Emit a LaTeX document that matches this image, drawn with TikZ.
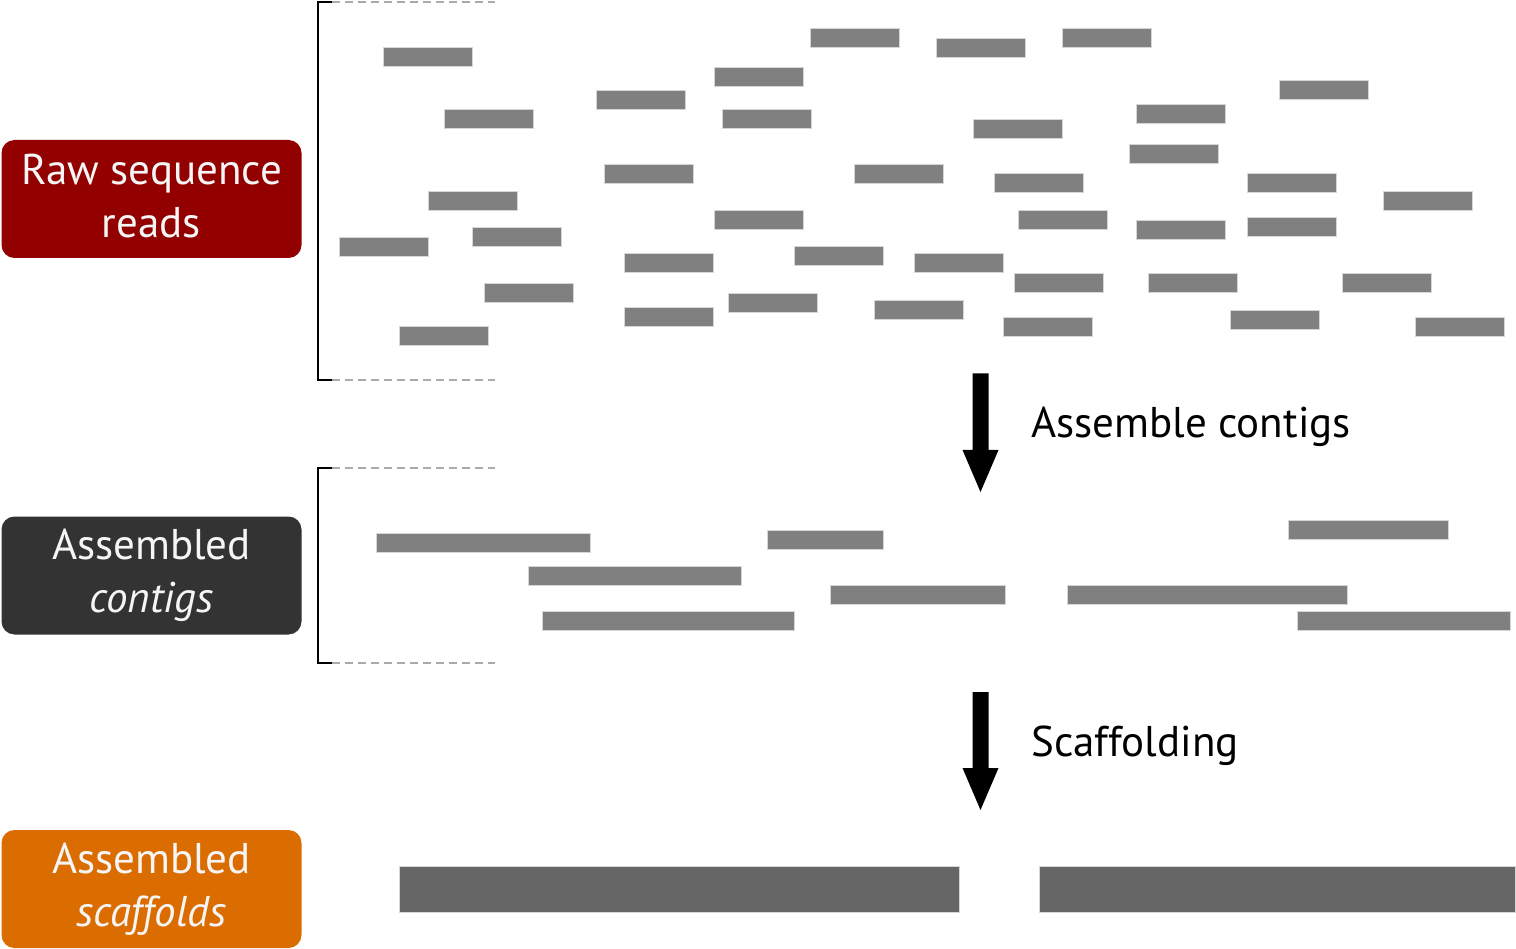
\documentclass[tikz,border=0pt]{standalone}
\usepackage{fontspec}
\setmainfont{PT Sans}
\definecolor{rawred}{HTML}{920000}
\definecolor{contiggray}{HTML}{333333}
\definecolor{scaforange}{HTML}{DB6C00}
\definecolor{readfill}{HTML}{808080}
\definecolor{readedge}{HTML}{D6D6D6}
\definecolor{scaffill}{HTML}{666666}
\definecolor{dashgray}{HTML}{AAAAAA}
\definecolor{boxtextcol}{HTML}{F5F5F5}
\tikzset{
  labelbox/.style={rounded corners=13pt, minimum width=300pt, minimum height=118pt, inner sep=0pt, draw=none},
  boxtext/.style={anchor=base, text=boxtextcol, inner sep=0pt, font=\fontsize{43}{53}\selectfont},
  steplabel/.style={anchor=base west, text=black, inner sep=0pt, font=\fontsize{43}{53}\selectfont},
  readbar/.style={fill=readfill, draw=readedge, line width=1pt},
  scafbar/.style={fill=scaffill, draw=readedge, line width=1pt},
  bracketline/.style={draw=black, line width=2pt},
  guideline/.style={draw=dashgray, line width=2pt, dash pattern=on 8pt off 5pt},
  bigarrow/.style={fill=black},
}
\begin{document}
\begin{tikzpicture}[x=1pt,y=-1pt]
\useasboundingbox (0,0) rectangle (1516,949);

% label boxes
\node[labelbox, fill=rawred] (rawbox) at (151.5,199) {};
\node[boxtext] (rawt1) at (151.5,185) {Raw sequence};
\node[boxtext] (rawt2) at (151.5,238) {reads};

\node[labelbox, fill=contiggray] (conbox) at (151.5,575.5) {};
\node[boxtext] (cont1) at (151.5,559) {Assembled};
\node[boxtext] (cont2) at (151.5,612) {\itshape contigs};

\node[labelbox, fill=scaforange] (scabox) at (151.5,889) {};
\node[boxtext] (scat1) at (151.5,873) {Assembled};
\node[boxtext] (scat2) at (151.5,926) {\itshape scaffolds};

% brackets
\coordinate (b1a) at (332,2);
\coordinate (b1b) at (318,2);
\coordinate (b1c) at (318,380);
\coordinate (b1d) at (332,380);
\coordinate (b1e) at (495,2);
\coordinate (b1f) at (495,380);
\draw[bracketline] (b1a) -- (b1b) -- (b1c) -- (b1d);
\draw[guideline] (b1a) -- (b1e);
\draw[guideline] (b1d) -- (b1f);

\coordinate (b2a) at (332,468);
\coordinate (b2b) at (318,468);
\coordinate (b2c) at (318,663);
\coordinate (b2d) at (332,663);
\coordinate (b2e) at (495,468);
\coordinate (b2f) at (495,663);
\draw[bracketline] (b2a) -- (b2b) -- (b2c) -- (b2d);
\draw[guideline] (b2a) -- (b2e);
\draw[guideline] (b2d) -- (b2f);

% raw reads
\foreach \rx/\ry in {383.5/48, 444/110, 596.5/91, 604.5/164.5, 428/192, 472.5/228,
  339/237.5, 624.5/254, 484/284, 624.5/308, 399.5/327,
  810/29, 936.5/39, 1062.5/29, 714/67.5, 722/110, 973/119.5, 854.5/164.5,
  994/174, 714/211, 1018/211, 794.5/247, 914/254, 1014/274, 728.5/293.5,
  874/301, 1003/317.5,
  1279/81, 1136/105, 1129.5/145, 1247/174, 1383/192, 1136/221, 1247/218,
  1148/274, 1342.5/274, 1230/310.5, 1415.5/317.5}
  \draw[readbar] (\rx,\ry) rectangle ++(89,19);

% contigs
\foreach \ca/\cb/\cy in {376/590/533.5, 767/883/530, 1288/1448/520.5, 528/741/566,
  830/1005/585.5, 1067/1347/585.5, 542/794/611.5, 1297/1510/611}
  \draw[readbar] (\ca,\cy) rectangle (\cb,\cy+19);

% scaffolds
\draw[scafbar] (399.5,866.5) rectangle (959.5,912);
\draw[scafbar] (1039,866.5) rectangle (1515,912);

% arrows
\coordinate (a1top) at (980.5,373.5);
\coordinate (a1tip) at (980.5,492);
\fill[bigarrow] (972.5,373.5) -- (988.5,373.5) -- (988.5,450) -- (998.5,450) -- (a1tip) -- (962.5,450) -- (972.5,450) -- cycle;
\node[steplabel] (asm) at (1031,438) {Assemble contigs};

\coordinate (a2top) at (980.5,692);
\coordinate (a2tip) at (980.5,810);
\fill[bigarrow] (972.5,692) -- (988.5,692) -- (988.5,768) -- (998.5,768) -- (a2tip) -- (962.5,768) -- (972.5,768) -- cycle;
\node[steplabel] (scaf) at (1031,756) {Scaffolding};
\end{tikzpicture}
\end{document}
